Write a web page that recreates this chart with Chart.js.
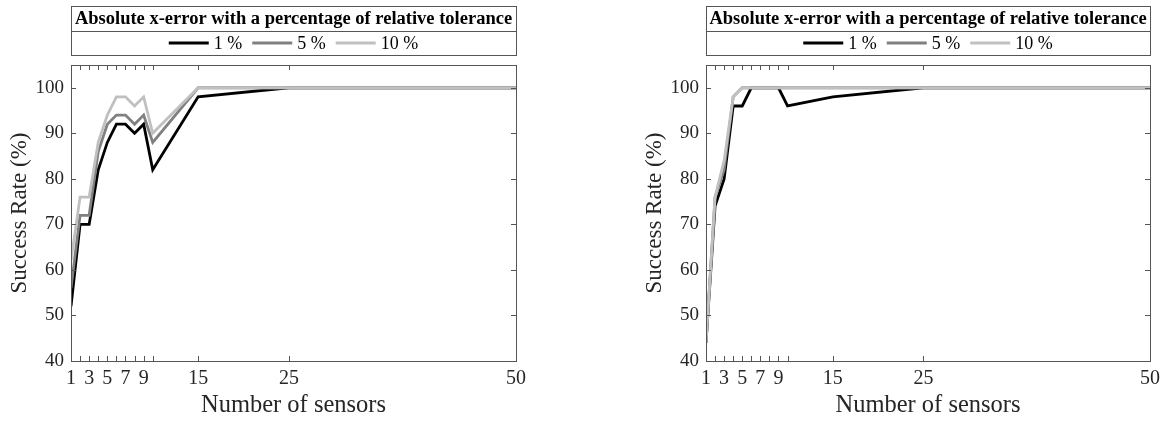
<!DOCTYPE html>
<html>
<head>
<meta charset="utf-8">
<script src="https://cdn.jsdelivr.net/npm/chart.js@4.4.1/dist/chart.umd.min.js"></script>
<style>
  body { margin: 0; background: #fff; }
  #wrap { display: flex; width: 1167px; height: 421px; }
  canvas { display: block; }
</style>
</head>
<body>
<div id="wrap">
  <canvas id="chartLeft" width="583" height="421" style="width:583px;height:421px"></canvas>
  <canvas id="chartRight" width="584" height="421" style="width:584px;height:421px"></canvas>
</div>
<script>
// number of sensors on the x axis
const sensors = [1, 2, 3, 4, 5, 6, 7, 8, 9, 10, 15, 25, 50];
const xTicks = [1, 2, 3, 4, 5, 6, 7, 8, 9, 10, 15, 25, 50];
const xLabels = [1, 3, 5, 7, 9, 15, 25, 50];
const yTicks = [40, 50, 60, 70, 80, 90, 100];

const tolLabels = ['1 %', '5 %', '10 %'];
const tolColors = ['#000000', '#808080', '#c0c0c0'];

// success rate (%) - left panel
const left1 = [52, 70, 70, 82, 88, 92, 92, 90, 92, 82, 98, 100, 100];
const left5 = [56, 72, 72, 86, 92, 94, 94, 92, 94, 88, 100, 100, 100];
const left10 = [62, 76, 76, 88, 94, 98, 98, 96, 98, 90, 100, 100, 100];

// success rate (%) - right panel
const right1 = [44, 74, 80, 96, 96, 100, 100, 100, 100, 96, 98, 100, 100];
const right5 = [44, 76, 82, 98, 100, 100, 100, 100, 100, 100, 100, 100, 100];
const right10 = [44, 76, 84, 98, 100, 100, 100, 100, 100, 100, 100, 100, 100];

const legendTitle = 'Absolute x-error with a percentage of relative tolerance';
const serif = '"Liberation Serif", "Times New Roman", serif';
const axisGray = '#555555';
const textColor = '#262626';

// box around the plot plus inward tick marks on all four sides
const frameTicks = {
  id: 'frameTicks',
  afterDraw(chart) {
    const { ctx, chartArea: a } = chart;
    const xs = chart.scales.x, ys = chart.scales.y;
    ctx.save();
    ctx.strokeStyle = axisGray;
    ctx.lineWidth = 1;
    ctx.strokeRect(a.left + 0.5, a.top + 0.5, a.right - a.left, a.bottom - a.top);
    ctx.beginPath();
    xTicks.forEach(v => {
      const px = Math.round(xs.getPixelForValue(v)) + 0.5;
      ctx.moveTo(px, a.bottom); ctx.lineTo(px, a.bottom - 5);
      ctx.moveTo(px, a.top); ctx.lineTo(px, a.top + 5);
    });
    yTicks.forEach(v => {
      const py = Math.round(ys.getPixelForValue(v)) + 0.5;
      ctx.moveTo(a.left, py); ctx.lineTo(a.left + 5, py);
      ctx.moveTo(a.right, py); ctx.lineTo(a.right - 5, py);
    });
    ctx.stroke();
    ctx.restore();
  }
};

// boxed legend with title row above the plot
const boxLegend = {
  id: 'boxLegend',
  afterDraw(chart) {
    const { ctx, chartArea: a } = chart;
    const top = 6, mid = 31, bottom = 55;
    ctx.save();
    ctx.fillStyle = '#fff';
    ctx.fillRect(a.left, top, a.right - a.left, bottom - top);
    ctx.strokeStyle = axisGray;
    ctx.lineWidth = 1;
    ctx.strokeRect(a.left + 0.5, top + 0.5, a.right - a.left, bottom - top);
    ctx.beginPath();
    ctx.moveTo(a.left, mid + 0.5); ctx.lineTo(a.right, mid + 0.5);
    ctx.stroke();

    const cx = (a.left + a.right) / 2;
    ctx.fillStyle = '#000';
    ctx.textAlign = 'center';
    ctx.textBaseline = 'middle';
    ctx.font = 'bold 18.5px ' + serif;
    ctx.fillText(legendTitle, cx, (top + mid) / 2 + 1);

    ctx.font = '18px ' + serif;
    const lineLen = 40, gapText = 5, gapItem = 10;
    const items = chart.data.datasets.map(d => ({
      label: d.label, color: d.borderColor, w: ctx.measureText(d.label).width
    }));
    let total = 0;
    items.forEach((it, i) => { total += lineLen + gapText + it.w + (i < items.length - 1 ? gapItem : 0); });
    let x = cx - total / 2;
    const y = (mid + bottom) / 2 + 1;
    ctx.textAlign = 'left';
    items.forEach(it => {
      ctx.strokeStyle = it.color;
      ctx.lineWidth = 3;
      ctx.beginPath();
      ctx.moveTo(x, y - 1); ctx.lineTo(x + lineLen, y - 1);
      ctx.stroke();
      x += lineLen + gapText;
      ctx.fillStyle = '#000';
      ctx.fillText(it.label, x, y);
      x += it.w + gapItem;
    });
    ctx.restore();
  }
};

function makeChart(id, series, padLeft, padRight) {
  const ctx = document.getElementById(id).getContext('2d');
  return new Chart(ctx, {
    type: 'line',
    data: {
      datasets: series.map((vals, i) => ({
        label: tolLabels[i],
        data: sensors.map((s, j) => ({ x: s, y: vals[j] })),
        borderColor: tolColors[i],
        backgroundColor: tolColors[i],
        borderWidth: 2.8,
        pointRadius: 0,
        tension: 0,
        fill: false,
        order: series.length - i   // 10 % drawn on top
      }))
    },
    options: {
      responsive: false,
      animation: false,
      layout: { padding: { left: padLeft, right: padRight, top: 65, bottom: 0 } },
      plugins: { legend: { display: false }, tooltip: { enabled: false } },
      scales: {
        x: {
          type: 'linear',
          min: 1,
          max: 50,
          afterBuildTicks: s => { s.ticks = xTicks.map(v => ({ value: v })); },
          afterFit: s => { s.height = 60; },
          grid: { display: false, drawTicks: false },
          border: { display: false },
          ticks: {
            autoSkip: false,
            maxRotation: 0,
            padding: 6,
            color: textColor,
            font: { family: serif, size: 20 },
            callback: v => xLabels.includes(v) ? String(v) : ''
          },
          title: {
            display: true,
            text: 'Number of sensors',
            color: textColor,
            font: { family: serif, size: 24.5, lineHeight: 1 },
            padding: { top: 0, bottom: 3 }
          }
        },
        y: {
          min: 40,
          max: 105,
          afterBuildTicks: s => { s.ticks = yTicks.map(v => ({ value: v })); },
          afterFit: s => { s.width = 71; },
          grid: { display: false, drawTicks: false },
          border: { display: false },
          ticks: {
            padding: 7,
            color: textColor,
            font: { family: serif, size: 19 }
          },
          title: {
            display: true,
            text: 'Success Rate (%)',
            color: textColor,
            font: { family: serif, size: 23, lineHeight: 1 },
            padding: { top: 8, bottom: 0 }
          }
        }
      }
    },
    plugins: [frameTicks, boxLegend]
  });
}

makeChart('chartLeft', [left1, left5, left10], 0, 67);
makeChart('chartRight', [right1, right5, right10], 52, 17);
</script>
</body>
</html>
